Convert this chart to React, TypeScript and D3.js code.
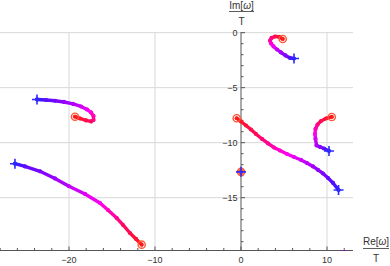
import React from "react";
import * as d3 from "d3";

type Pt = [number, number];

// Re[ω]/T, Im[ω]/T — each series runs from the start (circle) to the end (+)
const seriesA: Pt[] = [
  [4.85, -0.57], [4.42, -0.37], [3.95, -0.35], [3.55, -0.48], [3.37, -0.73],
  [3.49, -0.98], [3.78, -1.25], [4.19, -1.53], [4.65, -1.8], [5.17, -2.07],
  [5.7, -2.3], [6.16, -2.35],
];
const seriesB: Pt[] = [
  [-19.3, -7.64], [-18.72, -7.8], [-18.02, -7.98], [-17.44, -8.07], [-17.15, -7.94],
  [-17.15, -7.57], [-17.44, -7.25], [-17.91, -6.98], [-18.6, -6.71], [-19.53, -6.48],
  [-20.58, -6.3], [-21.63, -6.19], [-22.67, -6.12], [-23.72, -6.07],
];
const seriesC: Pt[] = [
  [-11.55, -19.27], [-12.21, -18.75], [-12.91, -18.21], [-13.72, -17.48], [-14.45, -16.85],
  [-15.47, -16.12], [-16.4, -15.48], [-18.14, -14.66], [-20.0, -13.96], [-21.63, -13.25],
  [-23.37, -12.6], [-25.12, -12.16], [-26.28, -11.91],
];
const seriesD: Pt[] = [
  [-0.5, -7.78], [0, -8.07], [0.58, -8.44], [1.16, -8.8], [1.74, -9.21],
  [2.44, -9.66], [3.14, -10.07], [3.84, -10.44], [4.53, -10.71], [5.35, -11.03],
  [6.16, -11.3], [6.98, -11.57], [7.67, -11.85], [8.37, -12.16], [8.95, -12.48],
  [9.53, -12.8], [10.12, -13.21], [10.7, -13.66], [11.34, -14.3],
];
const seriesE: Pt[] = [
  [10.55, -7.66], [9.88, -7.8], [9.3, -8.03], [8.9, -8.35], [8.66, -8.75],
  [8.6, -9.21], [8.66, -9.66], [8.78, -10.25], [9.19, -10.39], [9.65, -10.53],
  [10.23, -10.75],
];
const seriesF: Pt[] = [[0, -12.65], [0, -12.65], [0, -12.65]];
const seriesG: Pt[] = [[11.7, -19.95], [12.0, -19.95], [12.3, -19.95]];

const allSeries: Pt[][] = [seriesA, seriesB, seriesC, seriesD, seriesE, seriesF];

const xMajor = [-20, -10, 0, 10];
const yMajor = [0, -5, -10, -15];
const xMinor = [-28, -26, -24, -22, -20, -18, -16, -14, -12, -10, -8, -6, -4, -2, 0, 2, 4, 6, 8, 10, 12];
const yMinor = [0, -1, -2, -3, -4, -5, -6, -7, -8, -9, -10, -11, -12, -13, -14, -15, -16, -17, -18, -19];

const W = 390;
const H = 266;
const x = d3.scaleLinear().domain([-28.02, 13.02]).range([0, 353]);
const y = d3.scaleLinear().domain([-19.8, 0.06]).range([250.5, 32]);

const color = d3.piecewise(d3.interpolateRgb, ["#ff1a1a", "#ff0866", "#ff00f0", "#9a00ff", "#3c14ff"]);

const fmt = (v: number) => (v < 0 ? "\u2212" + Math.abs(v) : String(v));

function Curve({ pts }: { pts: Pt[] }) {
  const n = pts.length;
  const t = (i: number) => (n > 1 ? i / (n - 1) : 0);
  return (
    <g>
      {pts.slice(1).map((p, i) => (
        <line
          key={"s" + i}
          x1={x(pts[i][0])}
          y1={y(pts[i][1])}
          x2={x(p[0])}
          y2={y(p[1])}
          stroke={color((t(i) + t(i + 1)) / 2)}
          strokeWidth={3.4}
          strokeLinecap="round"
        />
      ))}
      {pts.map((p, i) => (
        <circle key={"d" + i} cx={x(p[0])} cy={y(p[1])} r={2.1} fill={color(t(i))} />
      ))}
    </g>
  );
}

function Markers({ pts }: { pts: Pt[] }) {
  const s = pts[0];
  const e = pts[pts.length - 1];
  const ex = x(e[0]);
  const ey = y(e[1]);
  return (
    <g>
      <circle cx={x(s[0])} cy={y(s[1])} r={3.6} fill="none" stroke="#ff5533" strokeWidth={1.4} />
      <line x1={ex - 5} x2={ex + 5} y1={ey} y2={ey} stroke="#2b2bff" strokeWidth={1.6} />
      <line x1={ex} x2={ex} y1={ey - 5} y2={ey + 5} stroke="#2b2bff" strokeWidth={1.6} />
    </g>
  );
}

export default function App() {
  const axisColor = "#555";
  const textColor = "#333";
  const font = "'Liberation Sans', Arial, sans-serif";
  const x0 = x(0);
  const yBottom = 250.5;
  return (
    <div style={{ position: "fixed", left: 0, top: 0 }}>
      <svg width={W} height={H} style={{ display: "block", background: "#fff" }} fontFamily={font}>
        <defs>
          <clipPath id="plotclip">
            <rect x={0} y={0} width={353} height={yBottom} />
          </clipPath>
        </defs>
        {/* grid */}
        {xMajor.filter((v) => v !== 0).map((v) => (
          <line key={"gx" + v} x1={x(v)} x2={x(v)} y1={y(0.06)} y2={yBottom} stroke="#d8d8d8" strokeWidth={1} />
        ))}
        {yMajor.map((v) => (
          <line key={"gy" + v} x1={0} x2={353} y1={y(v)} y2={y(v)} stroke="#d8d8d8" strokeWidth={1} />
        ))}
        {/* axes */}
        <line x1={0} x2={353} y1={yBottom} y2={yBottom} stroke={axisColor} strokeWidth={1} />
        <line x1={x0} x2={x0} y1={y(0.06)} y2={yBottom} stroke={axisColor} strokeWidth={1} />
        {xMinor.map((v) => (
          <line
            key={"tx" + v}
            x1={x(v)}
            x2={x(v)}
            y1={yBottom}
            y2={yBottom - (xMajor.includes(v) ? 4 : 2.5)}
            stroke={axisColor}
            strokeWidth={1}
          />
        ))}
        {yMinor.map((v) => (
          <line
            key={"ty" + v}
            x1={x0}
            x2={x0 + (yMajor.includes(v) ? 4 : 2.5)}
            y1={y(v)}
            y2={y(v)}
            stroke={axisColor}
            strokeWidth={1}
          />
        ))}
        {xMajor.map((v) => (
          <text key={"lx" + v} x={x(v)} y={263} textAnchor="middle" fontSize={9} fill={textColor}>
            {fmt(v)}
          </text>
        ))}
        {yMajor.map((v) => (
          <text key={"ly" + v} x={x0 - 3.5} y={y(v)} dy="0.35em" textAnchor="end" fontSize={9} fill={textColor}>
            {fmt(v)}
          </text>
        ))}
        {/* axis labels */}
        <text x={241.5} y={8.5} textAnchor="middle" fontSize={10} fill={textColor}>
          Im[<tspan fontStyle="italic">ω</tspan>]
        </text>
        <line x1={229} x2={254} y1={11.5} y2={11.5} stroke={textColor} strokeWidth={0.8} />
        <text x={241.5} y={24.5} textAnchor="middle" fontSize={10} fill={textColor}>
          T
        </text>
        <text x={376} y={245} textAnchor="middle" fontSize={10} fill={textColor}>
          Re[<tspan fontStyle="italic">ω</tspan>]
        </text>
        <line x1={363} x2={389} y1={248.5} y2={248.5} stroke={textColor} strokeWidth={0.8} />
        <text x={376} y={262} textAnchor="middle" fontSize={10} fill={textColor}>
          T
        </text>
        {/* data */}
        <g clipPath="url(#plotclip)">
          {allSeries.map((s, i) => (
            <Curve key={"c" + i} pts={s} />
          ))}
          <g>
            {seriesG.map((p, i) => (
              <circle key={"g" + i} cx={x(p[0])} cy={y(p[1])} r={2.1} fill="#8a10c8" />
            ))}
          </g>
          <circle cx={x(seriesF[0][0])} cy={y(seriesF[0][1])} r={3.4} fill="#ff5533" opacity={0.8} />
          {allSeries.map((s, i) => (
            <Markers key={"m" + i} pts={s} />
          ))}
        </g>
      </svg>
    </div>
  );
}
